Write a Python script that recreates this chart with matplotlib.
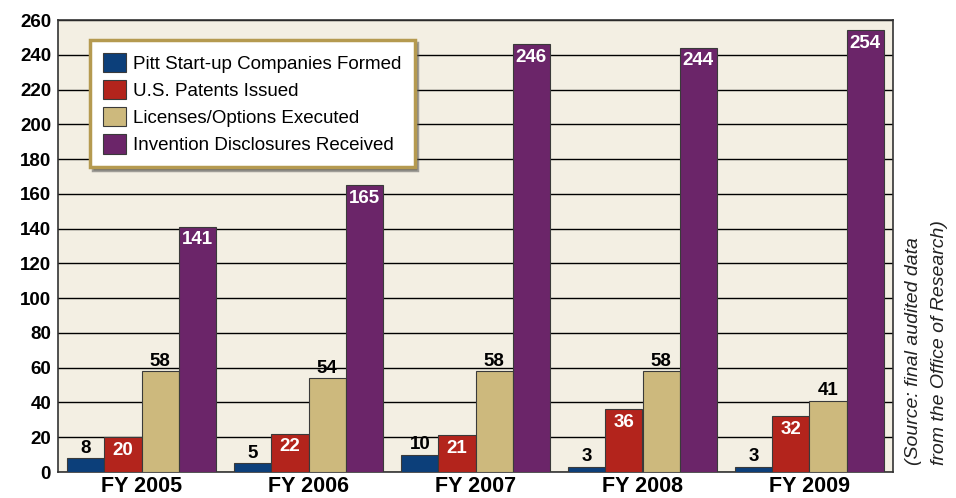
import matplotlib
matplotlib.use("Agg")
import matplotlib.pyplot as plt
import numpy as np

years = ["FY 2005", "FY 2006", "FY 2007", "FY 2008", "FY 2009"]
series_names = ["Pitt Start-up Companies Formed", "U.S. Patents Issued",
                "Licenses/Options Executed", "Invention Disclosures Received"]
startups = [8, 5, 10, 3, 3]
patents = [20, 22, 21, 36, 32]
licenses = [58, 54, 58, 58, 41]
disclosures = [141, 165, 246, 244, 254]
yticks = list(range(0, 261, 20))

colors = ["#0c3f7a", "#b3241c", "#cdb97d", "#6b2569"]
label_inside = [False, True, False, True]

plt.rcParams['font.family'] = ['Liberation Sans', 'DejaVu Sans']

fig = plt.figure(figsize=(9.56, 4.98), dpi=100)
ax = fig.add_axes([58/956, 1-472/498, (893-58)/956, (472-20)/498])
ax.set_facecolor("#f3efe3")

x = np.arange(len(years))
w = 0.222
data = [startups, patents, licenses, disclosures]
for i, (vals, c) in enumerate(zip(data, colors)):
    offs = (i - 1.5) * w
    bars = ax.bar(x + offs, vals, w, color=c, edgecolor="#3a3a3a", linewidth=0.8,
                  zorder=3, label=series_names[i])
    for b, v in zip(bars, vals):
        cx = b.get_x() + b.get_width() / 2
        if label_inside[i]:
            ax.text(cx, v - 2.5, str(v), ha="center", va="top", color="white",
                    fontsize=13.5, fontweight="bold", zorder=4)
        else:
            ax.text(cx, v + 0.8, str(v), ha="center", va="bottom", color="black",
                    fontsize=13.5, fontweight="bold", zorder=4)

ax.set_xlim(-0.5, len(years) - 0.5)
ax.set_ylim(0, 260)
ax.set_yticks(yticks)
ax.set_yticklabels([str(t) for t in yticks], fontsize=13.5, fontweight="bold")
ax.set_xticks(x)
ax.set_xticklabels(years, fontsize=15.5, fontweight="bold")
ax.tick_params(axis="x", length=0, pad=3)
ax.tick_params(axis="y", length=0, pad=5)
ax.yaxis.grid(True, color="black", linewidth=1.0, zorder=1)
ax.set_axisbelow(True)
for s in ax.spines.values():
    s.set_color("#333333")
    s.set_linewidth(1.2)

leg = ax.legend(loc="upper left", bbox_to_anchor=(32/835, 1-20/452), borderaxespad=0,
                fontsize=13.5, frameon=True, fancybox=False, shadow=True,
                handlelength=1.2, handleheight=1.2, borderpad=0.7,
                labelspacing=0.38, handletextpad=0.4)
leg.get_frame().set_edgecolor("#b59a50")
leg.get_frame().set_linewidth(2.5)
leg.get_frame().set_facecolor("white")
leg.set_zorder(5)

fig.text(913/956, 1-465/498, "(Source: final audited data", rotation=90, ha="center",
         va="bottom", fontsize=14, style="italic", color="#222222")
fig.text(940/956, 1-465/498, "from the Office of Research)", rotation=90, ha="center",
         va="bottom", fontsize=14, style="italic", color="#222222")

fig.savefig("out.png", dpi=100)
